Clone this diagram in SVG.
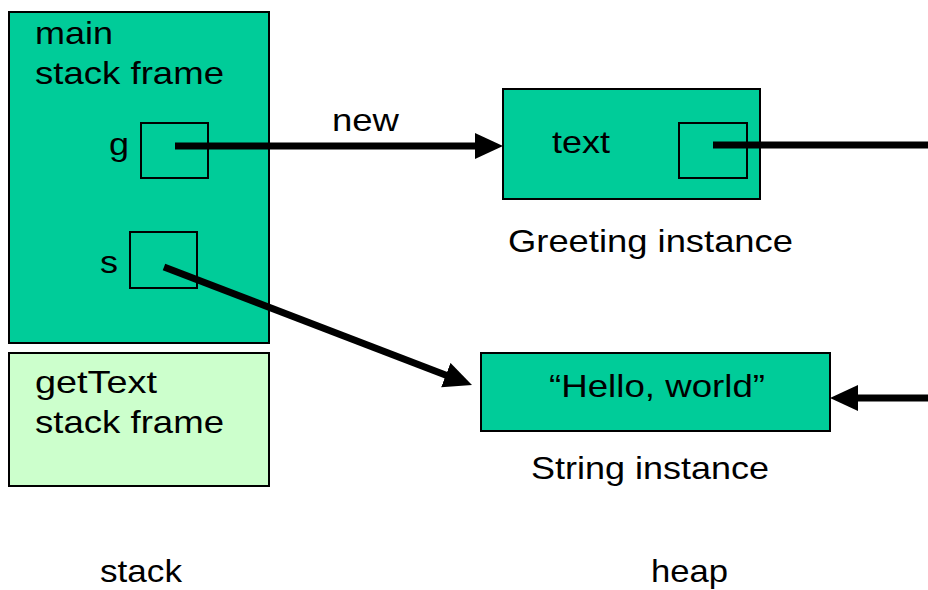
<svg xmlns="http://www.w3.org/2000/svg" width="928" height="590" viewBox="0 0 928 590">
<style>
.frame{fill:#00CC99;stroke:#000;stroke-width:2}
.light{fill:#CCFFCC;stroke:#000;stroke-width:2}
.slot{fill:none;stroke:#000;stroke-width:2}
.t{font-family:"Liberation Sans",Arial,sans-serif;font-size:32px;fill:#000}
.conn{stroke:#000;stroke-width:7;fill:none}
</style>
<defs>
<marker id="ah" markerUnits="userSpaceOnUse" markerWidth="30" markerHeight="28" refX="8" refY="13" orient="auto">
<path d="M0,0 L28,13 L0,26 z" fill="#000"/>
</marker>
</defs>
<rect width="928" height="590" fill="#fff"/>
<g id="main-frame">
<rect class="frame" x="9" y="12" width="260" height="331"/>
<text class="t" x="35" y="44" textLength="78" lengthAdjust="spacingAndGlyphs">main</text>
<text class="t" x="35" y="84" textLength="189" lengthAdjust="spacingAndGlyphs">stack frame</text>
</g>
<g id="var-g">
<rect class="slot" x="141" y="123" width="67" height="55"/>
<text class="t" x="109" y="155" textLength="20" lengthAdjust="spacingAndGlyphs">g</text>
</g>
<g id="var-s">
<rect class="slot" x="130" y="232" width="67" height="56"/>
<text class="t" x="100" y="273" textLength="18" lengthAdjust="spacingAndGlyphs">s</text>
</g>
<g id="gettext-frame">
<rect class="light" x="9" y="353" width="260" height="133"/>
<text class="t" x="35" y="393" textLength="122" lengthAdjust="spacingAndGlyphs">getText</text>
<text class="t" x="35" y="433" textLength="189" lengthAdjust="spacingAndGlyphs">stack frame</text>
</g>
<g id="greeting">
<rect class="frame" x="503" y="89" width="257" height="110"/>
<text class="t" x="552" y="153" textLength="58" lengthAdjust="spacingAndGlyphs">text</text>
<rect class="slot" x="679" y="123" width="68" height="55"/>
<text class="t" x="508" y="252" textLength="285" lengthAdjust="spacingAndGlyphs">Greeting instance</text>
</g>
<g id="string">
<rect class="frame" x="481" y="353" width="349" height="78"/>
<text class="t" x="549" y="397" textLength="216" lengthAdjust="spacingAndGlyphs">“Hello, world”</text>
<text class="t" x="531" y="479" textLength="238" lengthAdjust="spacingAndGlyphs">String instance</text>
</g>
<g id="labels">
<text class="t" x="100" y="582" textLength="82" lengthAdjust="spacingAndGlyphs">stack</text>
<text class="t" x="651" y="582" textLength="77" lengthAdjust="spacingAndGlyphs">heap</text>
</g>
<g id="connectors">
<line class="conn" x1="175" y1="146" x2="483" y2="146" marker-end="url(#ah)"/>
<text class="t" x="332" y="131" textLength="67" lengthAdjust="spacingAndGlyphs">new</text>
<line class="conn" x1="164" y1="267" x2="453.3" y2="377.9" marker-end="url(#ah)"/>
<line class="conn" x1="713" y1="145" x2="930" y2="145"/>
<line class="conn" x1="932" y1="398" x2="850" y2="398" marker-end="url(#ah)"/>
</g>
</svg>
